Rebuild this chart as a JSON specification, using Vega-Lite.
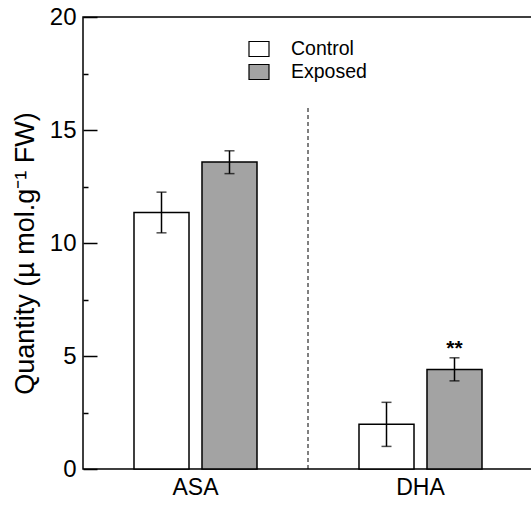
{
  "$schema": "https://vega.github.io/schema/vega-lite/v6.json",
  "autosize": {"type": "none"},
  "padding": {"left": 83, "top": 17, "right": 0, "bottom": 41},
  "width": 450,
  "height": 452,
  "config": {
    "view": {"stroke": "black", "strokeWidth": 1.5},
    "font": "Liberation Sans",
    "axis": {"labelFont": "Liberation Sans", "titleFont": "Liberation Sans", "labelColor": "black", "titleColor": "black"}
  },
  "datasets": {
    "bars": [
      {"cat": "ASA", "group": "Control", "mean": 11.35, "lo": 10.45, "hi": 12.25},
      {"cat": "ASA", "group": "Exposed", "mean": 13.58, "lo": 13.07, "hi": 14.08},
      {"cat": "DHA", "group": "Control", "mean": 1.98, "lo": 1.0, "hi": 2.95},
      {"cat": "DHA", "group": "Exposed", "mean": 4.4, "lo": 3.9, "hi": 4.92}
    ],
    "marks": [
      {"cat": "DHA", "group": "Exposed", "hi": 4.92, "sig": "**"}
    ],
    "divider": [{"cat": "DHA", "y0": 0, "y1": 16}]
  },
  "layer": [
    {
      "data": {"name": "bars"},
      "mark": {"type": "bar", "stroke": "black", "strokeWidth": 1.5},
      "encoding": {
        "x": {"field": "cat", "type": "nominal", "scale": {"domain": ["ASA", "DHA"], "paddingInner": 0, "paddingOuter": 0},
              "axis": {"title": null, "labelAngle": 0, "ticks": false, "domain": false, "labelFontSize": 23, "labelPadding": 7}},
        "xOffset": {"field": "group", "type": "nominal", "scale": {"domain": ["Control", "Exposed"], "paddingInner": 0.191, "paddingOuter": 0.75}},
        "y": {"field": "mean", "type": "quantitative",
              "scale": {"domain": [0, 20], "nice": false},
              "axis": {"title": "Quantity (µ mol.g⁻¹ FW)", "titleFontSize": 27, "titleFontWeight": "normal", "titlePadding": 10, "titleY": 236,
                       "values": [0, 2.5, 5, 7.5, 10, 12.5, 15, 17.5, 20],
                       "labelExpr": "datum.value % 5 === 0 ? datum.label : ''",
                       "labelFontSize": 24, "labelPadding": 21, "grid": false, "domain": false,
                       "tickColor": "black", "tickWidth": 1.5,
                       "tickSize": {"condition": {"test": "datum.value % 5 === 0", "value": -14}, "value": -5}}},
        "fill": {"field": "group", "type": "nominal",
                 "scale": {"domain": ["Control", "Exposed"], "range": ["white", "#a3a3a3"]},
                 "legend": {"title": null, "orient": "none", "legendX": 165, "legendY": 21,
                            "symbolType": "M-1,-0.75H1V0.75H-1Z", "symbolSize": 400,
                            "symbolStrokeColor": "black", "symbolStrokeWidth": 1.2, "symbolOpacity": 1,
                            "labelFontSize": 19.5, "labelFont": "Liberation Sans", "labelOffset": 21, "rowPadding": 2}}
      }
    },
    {
      "data": {"name": "bars"},
      "mark": {"type": "rule", "color": "black", "strokeWidth": 1.5},
      "encoding": {
        "x": {"field": "cat", "type": "nominal"},
        "xOffset": {"field": "group", "type": "nominal"},
        "y": {"field": "lo", "type": "quantitative"},
        "y2": {"field": "hi"}
      }
    },
    {
      "data": {"name": "bars"},
      "mark": {"type": "tick", "color": "black", "thickness": 1.5, "size": 10, "orient": "horizontal"},
      "encoding": {
        "x": {"field": "cat", "type": "nominal"},
        "xOffset": {"field": "group", "type": "nominal"},
        "y": {"field": "lo", "type": "quantitative"}
      }
    },
    {
      "data": {"name": "bars"},
      "mark": {"type": "tick", "color": "black", "thickness": 1.5, "size": 10, "orient": "horizontal"},
      "encoding": {
        "x": {"field": "cat", "type": "nominal"},
        "xOffset": {"field": "group", "type": "nominal"},
        "y": {"field": "hi", "type": "quantitative"}
      }
    },
    {
      "data": {"name": "marks"},
      "mark": {"type": "text", "fontSize": 21, "fontWeight": "bold", "font": "Liberation Sans", "baseline": "alphabetic", "dy": -3, "color": "black"},
      "encoding": {
        "x": {"field": "cat", "type": "nominal"},
        "xOffset": {"field": "group", "type": "nominal"},
        "y": {"field": "hi", "type": "quantitative"},
        "text": {"field": "sig"}
      }
    },
    {
      "data": {"name": "divider"},
      "mark": {"type": "rule", "color": "black", "strokeWidth": 1, "strokeDash": [4, 3]},
      "encoding": {
        "x": {"field": "cat", "type": "nominal", "bandPosition": 0},
        "y": {"field": "y0", "type": "quantitative"},
        "y2": {"field": "y1"}
      }
    }
  ]
}
